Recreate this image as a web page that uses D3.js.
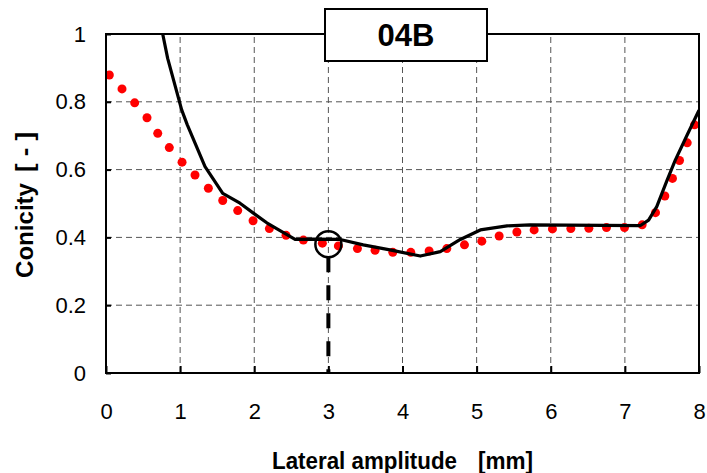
<!DOCTYPE html>
<html>
<head>
<meta charset="utf-8">
<script src="https://cdn.jsdelivr.net/npm/d3@7"></script>
<style>
  html, body { margin: 0; padding: 0; background: #fff; }
  svg { display: block; font-family: "Liberation Sans", Arial, sans-serif; }
</style>
</head>
<body>
<svg id="chart" width="707" height="473"></svg>
<script>
// ---- data ----
const title = "04B";
const xLabel = "Lateral amplitude";
const xUnit = "[mm]";
const yLabel = "Conicity";
const yUnit = "[ - ]";
const xTicks = [0, 1, 2, 3, 4, 5, 6, 7, 8];
const xTickLabels = ["0", "1", "2", "3", "4", "5", "6", "7", "8"];
const yTicks = [0, 0.2, 0.4, 0.6, 0.8, 1];
const yTickLabels = ["0", "0.2", "0.4", "0.6", "0.8", "1"];

// measured (black line)
const lineX = [0.765, 0.832, 1.021, 1.097, 1.336, 1.575, 1.808, 2.011, 2.169, 2.371, 2.551, 2.8, 3.16, 3.47, 3.83, 4.24, 4.51, 4.78, 5.05, 5.41, 5.72, 7.21, 7.32, 7.43, 7.57, 7.68, 7.84, 8.0];
const lineY = [1.0, 0.928, 0.776, 0.732, 0.609, 0.530, 0.501, 0.468, 0.443, 0.417, 0.394, 0.395, 0.394, 0.378, 0.363, 0.345, 0.358, 0.394, 0.422, 0.434, 0.437, 0.435, 0.451, 0.491, 0.569, 0.628, 0.702, 0.775];

// calculated (red dots)
const dotX = [0.045, 0.216, 0.387, 0.553, 0.698, 0.854, 1.026, 1.201, 1.381, 1.575, 1.777, 1.984, 2.204, 2.429, 2.663, 2.919, 3.135, 3.392, 3.63, 3.869, 4.112, 4.359, 4.598, 4.836, 5.07, 5.304, 5.543, 5.776, 6.023, 6.271, 6.514, 6.752, 6.995, 7.233, 7.413, 7.539, 7.642, 7.737, 7.841, 7.94];
const dotY = [0.879, 0.838, 0.797, 0.753, 0.707, 0.665, 0.622, 0.584, 0.545, 0.509, 0.479, 0.449, 0.426, 0.406, 0.392, 0.383, 0.375, 0.367, 0.362, 0.356, 0.356, 0.360, 0.367, 0.378, 0.389, 0.404, 0.416, 0.422, 0.425, 0.426, 0.427, 0.429, 0.429, 0.437, 0.473, 0.522, 0.574, 0.627, 0.679, 0.732];

// marked point
const markX = 3;
const markY = 0.38;

// ---- layout ----
const svg = d3.select("#chart");
const L = 106, R = 699, T = 34, B = 373;
const x = d3.scaleLinear().domain([0, 8]).range([L, R]);
const y = d3.scaleLinear().domain([0, 1]).range([B, T]);

// grid
const grid = svg.append("g");
grid.selectAll("line.vx").data(xTicks.slice(1, -1)).join("line")
  .attr("x1", d => x(d)).attr("x2", d => x(d))
  .attr("y1", y(0)).attr("y2", y(1))
  .attr("stroke", "#555").attr("stroke-width", 1).attr("stroke-dasharray", "6,4");
grid.selectAll("line.hy").data(yTicks.slice(1, -1)).join("line")
  .attr("x1", x(0)).attr("x2", x(8))
  .attr("y1", d => y(d)).attr("y2", d => y(d))
  .attr("stroke", "#555").attr("stroke-width", 1).attr("stroke-dasharray", "6,4");

// axes
const fontSize = 22;
const xAxis = d3.axisBottom(x).tickValues(xTicks).tickFormat((d, i) => xTickLabels[i])
  .tickSizeInner(-7).tickSizeOuter(0).tickPadding(30);
const gx = svg.append("g").attr("transform", `translate(0,${B})`).call(xAxis);
const yAxis = d3.axisLeft(y).tickValues(yTicks).tickFormat((d, i) => yTickLabels[i])
  .tickSizeInner(-5).tickSizeOuter(0).tickPadding(20);
const gy = svg.append("g").attr("transform", `translate(${L},0)`).call(yAxis);
[gx, gy].forEach(g => {
  g.select(".domain").remove();
  g.selectAll(".tick line").attr("stroke", "#000").attr("stroke-width", 2);
  g.selectAll(".tick text").attr("fill", "#000").style("font-size", fontSize + "px")
    .style("font-family", "'Liberation Sans', Arial, sans-serif");
});

// clip
svg.append("clipPath").attr("id", "clip").append("rect")
  .attr("x", L).attr("y", T).attr("width", R - L).attr("height", B - T);

// marker dashed vertical line and circle
const circR = 13;
svg.append("line")
  .attr("x1", x(markX)).attr("x2", x(markX))
  .attr("y1", y(markY) + circR).attr("y2", y(0))
  .attr("stroke", "#000").attr("stroke-width", 4).attr("stroke-dasharray", "15,13");

// dots
const dots = dotX.map((d, i) => [d, dotY[i]]);
svg.append("g").attr("clip-path", "url(#clip)")
  .selectAll("circle").data(dots).join("circle")
  .attr("cx", d => x(d[0])).attr("cy", d => y(d[1])).attr("r", 4.5)
  .attr("fill", "#ff0000");

// line
const linePts = lineX.map((d, i) => [d, lineY[i]]);
svg.append("path").datum(linePts)
  .attr("clip-path", "url(#clip)")
  .attr("d", d3.line().x(d => x(d[0])).y(d => y(d[1])))
  .attr("fill", "none").attr("stroke", "#000").attr("stroke-width", 3.2)
  .attr("stroke-linejoin", "round");

svg.append("circle")
  .attr("cx", x(markX)).attr("cy", y(markY)).attr("r", circR)
  .attr("fill", "none").attr("stroke", "#000").attr("stroke-width", 2.5);

// frame
svg.append("rect").attr("x", L).attr("y", T).attr("width", R - L).attr("height", B - T)
  .attr("fill", "none").attr("stroke", "#000").attr("stroke-width", 2);

// title box
svg.append("rect").attr("x", 325).attr("y", 9).attr("width", 162).attr("height", 52)
  .attr("fill", "#fff").attr("stroke", "#000").attr("stroke-width", 2);
svg.append("text").attr("x", 406).attr("y", 46).attr("text-anchor", "middle")
  .style("font-size", "31px").style("font-weight", "bold").text(title);

// axis titles
svg.append("text").attr("x", 272).attr("y", 469)
  .attr("textLength", 185).attr("lengthAdjust", "spacingAndGlyphs")
  .style("font-size", "23px").style("font-weight", "bold").text(xLabel);
svg.append("text").attr("x", 478).attr("y", 469)
  .attr("textLength", 55).attr("lengthAdjust", "spacingAndGlyphs")
  .style("font-size", "23px").style("font-weight", "bold").text(xUnit);

const yt = svg.append("g").attr("transform", "translate(33,278) rotate(-90)");
yt.append("text").attr("x", 0).attr("y", 0)
  .attr("textLength", 95).attr("lengthAdjust", "spacingAndGlyphs")
  .style("font-size", "23px").style("font-weight", "bold").text(yLabel);
yt.append("text").attr("x", 106).attr("y", 0)
  .attr("textLength", 40).attr("lengthAdjust", "spacingAndGlyphs")
  .style("font-size", "23px").style("font-weight", "bold").text(yUnit);
</script>
</body>
</html>
